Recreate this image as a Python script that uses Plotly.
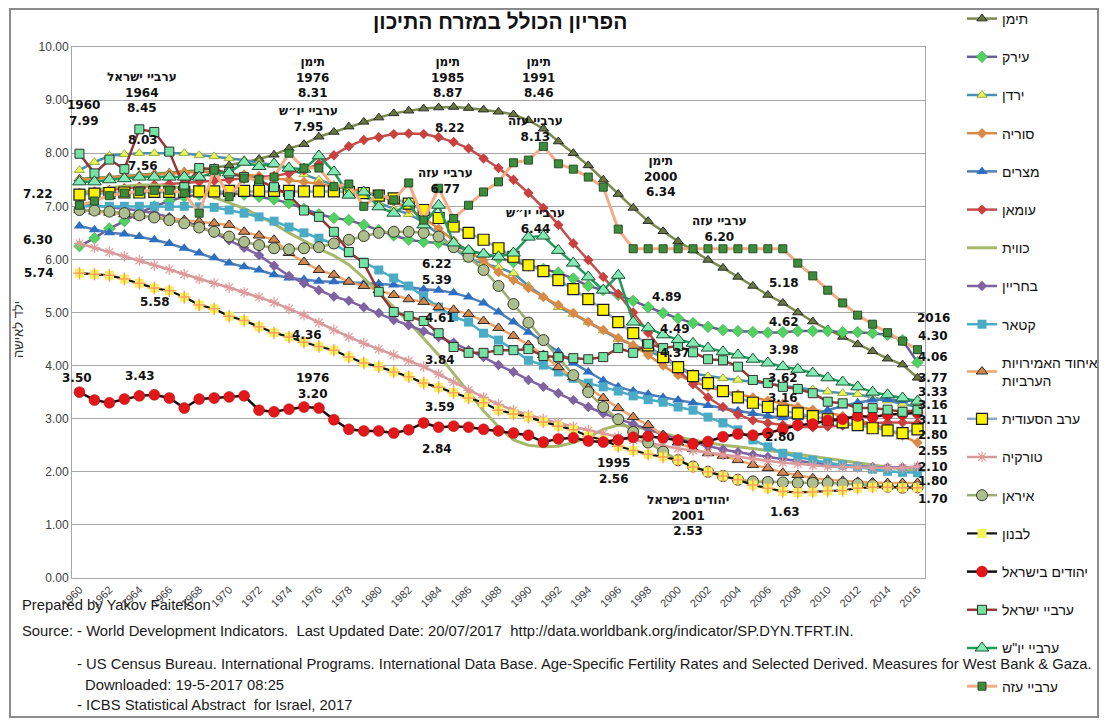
import plotly.graph_objects as go

years = list(range(1960, 2017))

yemen = [7.52, 7.53, 7.55, 7.57, 7.59, 7.61, 7.63, 7.65, 7.68, 7.72,
         7.77, 7.83, 7.89, 7.97, 8.09, 8.17, 8.31, 8.40, 8.50, 8.59,
         8.67, 8.75, 8.80, 8.84, 8.86, 8.87, 8.85, 8.82, 8.78, 8.73,
         8.62, 8.46, 8.22, 8.00, 7.77, 7.50, 7.23, 6.97, 6.72, 6.53,
         6.34, 6.17, 5.99, 5.84, 5.67, 5.50, 5.33, 5.18, 5.00, 4.83,
         4.68, 4.54, 4.40, 4.27, 4.13, 4.02, 3.77]
iraq = [6.25, 6.40, 6.58, 6.72, 6.88, 7.00, 7.10, 7.18, 7.22, 7.24,
        7.24, 7.22, 7.18, 7.13, 7.06, 6.95, 6.85, 6.78, 6.74, 6.65,
        6.55, 6.45, 6.37, 6.33, 6.31, 6.25, 6.17, 6.10, 6.02, 5.95,
        5.88, 5.82, 5.75, 5.64, 5.50, 5.42, 5.33, 5.22, 5.10, 4.99,
        4.89, 4.80, 4.73, 4.67, 4.65, 4.63, 4.62, 4.63, 4.65, 4.65,
        4.65, 4.63, 4.63, 4.61, 4.58, 4.48, 4.06]
jordan = [7.68, 7.83, 7.95, 7.98, 8.00, 8.00, 8.00, 8.00, 7.96, 7.94,
          7.90, 7.87, 7.82, 7.78, 7.70, 7.60, 7.50, 7.40, 7.30, 7.18,
          7.06, 6.95, 6.85, 6.70, 6.47, 6.22, 6.00, 5.92, 5.85, 5.74,
          5.50, 5.30, 5.10, 4.97, 4.82, 4.66, 4.50, 4.39, 4.28, 4.15,
          3.98, 3.85, 3.80, 3.76, 3.73, 3.70, 3.66, 3.62, 3.58, 3.55,
          3.51, 3.48, 3.46, 3.40, 3.34, 3.28, 3.22]
syria = [7.50, 7.52, 7.54, 7.56, 7.58, 7.60, 7.62, 7.64, 7.65, 7.64,
         7.62, 7.60, 7.57, 7.53, 7.50, 7.46, 7.42, 7.38, 7.33, 7.28,
         7.20, 7.10, 6.95, 6.78, 6.58, 6.35, 6.15, 5.98, 5.76, 5.61,
         5.46, 5.29, 5.14, 4.99, 4.82, 4.67, 4.52, 4.38, 4.20, 4.00,
         3.82, 3.70, 3.60, 3.52, 3.46, 3.40, 3.34, 3.28, 3.22, 3.17,
         3.12, 3.05, 2.98, 2.90, 2.80, 2.68, 2.55]
egypt = [6.63, 6.56, 6.50, 6.48, 6.43, 6.37, 6.30, 6.21, 6.12, 6.03,
         5.93, 5.86, 5.80, 5.71, 5.65, 5.62, 5.59, 5.58, 5.57, 5.55,
         5.54, 5.52, 5.48, 5.44, 5.42, 5.37, 5.29, 5.18, 5.01, 4.82,
         4.63, 4.45, 4.26, 4.05, 3.88, 3.72, 3.60, 3.52, 3.46, 3.40,
         3.35, 3.30, 3.25, 3.20, 3.15, 3.10, 3.05, 3.02, 3.02, 3.08,
         3.16, 3.24, 3.30, 3.35, 3.36, 3.34, 3.33]
oman = [7.25, 7.28, 7.31, 7.34, 7.37, 7.40, 7.42, 7.44, 7.46, 7.48,
        7.50, 7.52, 7.54, 7.57, 7.62, 7.68, 7.80, 7.96, 8.13, 8.25,
        8.30, 8.36, 8.37, 8.36, 8.30, 8.21, 8.09, 7.90, 7.72, 7.50,
        7.25, 6.97, 6.65, 6.30, 5.99, 5.67, 5.35, 5.00, 4.62, 4.25,
        3.92, 3.65, 3.40, 3.22, 3.08, 2.97, 2.92, 2.88, 2.85, 2.84,
        2.85, 2.87, 2.90, 2.92, 2.93, 2.93, 2.92]
kuwait = [7.25, 7.30, 7.35, 7.38, 7.40, 7.40, 7.38, 7.33, 7.26, 7.17,
          7.07, 6.96, 6.82, 6.67, 6.50, 6.35, 6.20, 6.07, 5.90, 5.65,
          5.38, 5.10, 4.82, 4.52, 4.20, 3.85, 3.50, 3.15, 2.85, 2.60,
          2.50, 2.47, 2.48, 2.55, 2.65, 2.80, 2.88, 2.85, 2.80, 2.72,
          2.65, 2.60, 2.55, 2.50, 2.47, 2.44, 2.40, 2.37, 2.33, 2.29,
          2.25, 2.20, 2.16, 2.12, 2.08, 2.05, 2.03]
bahrain = [7.05, 7.02, 6.99, 6.96, 6.92, 6.87, 6.80, 6.72, 6.62, 6.50,
           6.36, 6.22, 6.08, 5.88, 5.69, 5.55, 5.42, 5.30, 5.22, 5.10,
           4.99, 4.86, 4.76, 4.65, 4.54, 4.43, 4.29, 4.16, 4.01, 3.88,
           3.73, 3.60, 3.48, 3.35, 3.22, 3.10, 3.00, 2.90, 2.80, 2.70,
           2.62, 2.55, 2.48, 2.42, 2.37, 2.32, 2.28, 2.24, 2.20, 2.17,
           2.14, 2.12, 2.10, 2.09, 2.08, 2.08, 2.09]
qatar = [7.00, 7.00, 7.00, 7.00, 7.00, 7.00, 7.00, 7.00, 6.99, 6.98,
         6.93, 6.87, 6.80, 6.72, 6.61, 6.50, 6.40, 6.29, 6.12, 5.95,
         5.80, 5.65, 5.50, 5.30, 5.10, 4.92, 4.82, 4.61, 4.48, 4.30,
         4.10, 4.01, 3.88, 3.76, 3.67, 3.60, 3.52, 3.43, 3.36, 3.31,
         3.22, 3.16, 3.03, 2.92, 2.79, 2.60, 2.47, 2.35, 2.28, 2.22,
         2.17, 2.13, 2.09, 2.05, 2.01, 1.99, 1.98]
uae = [6.93, 6.90, 6.88, 6.85, 6.82, 6.80, 6.77, 6.74, 6.71, 6.68,
       6.65, 6.52, 6.45, 6.37, 6.12, 5.95, 5.80, 5.71, 5.58, 5.50,
       5.42, 5.33, 5.25, 5.20, 5.10, 5.05, 4.97, 4.84, 4.71, 4.56,
       4.39, 4.20, 3.97, 3.78, 3.58, 3.39, 3.20, 3.03, 2.88, 2.69,
       2.55, 2.43, 2.35, 2.30, 2.22, 2.13, 2.07, 1.98, 1.94, 1.88,
       1.85, 1.83, 1.81, 1.80, 1.79, 1.79, 1.79]
saudi = [7.22, 7.24, 7.25, 7.26, 7.26, 7.27, 7.27, 7.27, 7.28, 7.28,
         7.29, 7.29, 7.29, 7.29, 7.29, 7.28, 7.28, 7.28, 7.27, 7.25,
         7.20, 7.15, 7.05, 6.93, 6.78, 6.62, 6.50, 6.37, 6.21, 6.05,
         5.89, 5.78, 5.61, 5.44, 5.25, 5.05, 4.82, 4.61, 4.38, 4.16,
         3.97, 3.80, 3.67, 3.52, 3.40, 3.30, 3.22, 3.15, 3.10, 3.05,
         2.99, 2.93, 2.88, 2.82, 2.78, 2.73, 2.80]
turkey = [6.30, 6.22, 6.14, 6.06, 5.98, 5.89, 5.81, 5.72, 5.63, 5.55,
          5.47, 5.38, 5.29, 5.19, 5.07, 4.95, 4.81, 4.67, 4.54, 4.42,
          4.31, 4.20, 4.09, 3.98, 3.84, 3.69, 3.54, 3.40, 3.27, 3.16,
          3.07, 2.99, 2.92, 2.85, 2.78, 2.72, 2.66, 2.60, 2.54, 2.49,
          2.44, 2.40, 2.36, 2.32, 2.28, 2.24, 2.20, 2.17, 2.15, 2.12,
          2.10, 2.09, 2.08, 2.07, 2.07, 2.07, 2.10]
iran = [6.93, 6.92, 6.90, 6.87, 6.83, 6.79, 6.74, 6.68, 6.60, 6.52,
        6.43, 6.33, 6.27, 6.21, 6.19, 6.21, 6.23, 6.30, 6.37, 6.44,
        6.50, 6.52, 6.52, 6.50, 6.43, 6.23, 6.05, 5.80, 5.50, 5.16,
        4.81, 4.48, 4.15, 3.82, 3.50, 3.22, 2.99, 2.75, 2.55, 2.38,
        2.22, 2.10, 2.00, 1.92, 1.85, 1.82, 1.81, 1.80, 1.79, 1.79,
        1.79, 1.78, 1.77, 1.75, 1.72, 1.70, 1.71]
lebanon = [5.74, 5.72, 5.70, 5.63, 5.55, 5.46, 5.41, 5.29, 5.14, 5.07,
           4.93, 4.85, 4.73, 4.62, 4.54, 4.44, 4.36, 4.29, 4.16, 4.05,
           3.98, 3.88, 3.79, 3.67, 3.59, 3.49, 3.39, 3.30, 3.16, 3.09,
           3.03, 2.94, 2.86, 2.79, 2.67, 2.60, 2.48, 2.40, 2.33, 2.28,
           2.22, 2.09, 2.00, 1.92, 1.85, 1.75, 1.69, 1.63, 1.61, 1.62,
           1.64, 1.65, 1.69, 1.71, 1.71, 1.70, 1.70]
jews_israel = [3.50, 3.35, 3.30, 3.37, 3.43, 3.45, 3.39, 3.20, 3.37, 3.39,
               3.41, 3.43, 3.16, 3.13, 3.18, 3.22, 3.20, 2.98, 2.80, 2.77,
               2.77, 2.73, 2.79, 2.92, 2.84, 2.86, 2.84, 2.80, 2.77, 2.73,
               2.69, 2.56, 2.62, 2.64, 2.58, 2.56, 2.60, 2.65, 2.67, 2.64,
               2.60, 2.53, 2.57, 2.66, 2.71, 2.69, 2.73, 2.80, 2.88, 2.90,
               2.97, 2.99, 3.05, 3.03, 3.08, 3.09, 3.11]
arabs_israel = [7.99, 7.62, 7.88, 7.70, 8.45, 8.40, 8.03, 7.36, 7.72, 7.70,
                7.62, 7.55, 7.48, 7.36, 7.21, 6.92, 6.80, 6.52, 6.14, 5.93,
                5.39, 5.01, 4.93, 4.84, 4.61, 4.35, 4.24, 4.24, 4.29, 4.29,
                4.31, 4.18, 4.16, 4.14, 4.12, 4.16, 4.33, 4.24, 4.41, 4.33,
                4.37, 4.25, 4.12, 4.10, 3.98, 3.73, 3.67, 3.60, 3.56, 3.48,
                3.32, 3.29, 3.20, 3.20, 3.17, 3.13, 3.16]
arabs_wb = [7.46, 7.46, 7.50, 7.52, 7.55, 7.55, 7.55, 7.55, 7.55, 7.63,
            7.63, 7.83, 7.75, 7.80, 7.72, 7.70, 7.95, 7.65, 7.21, 7.27,
            6.99, 6.87, 7.06, 6.65, 7.02, 6.31, 6.17, 6.10, 6.05, 6.12,
            6.42, 6.44, 6.17, 5.93, 5.67, 5.42, 5.70, 4.82, 4.71, 4.58,
            4.49, 4.42, 4.33, 4.26, 4.20, 4.12, 4.05, 3.98, 3.93, 3.86,
            3.77, 3.69, 3.60, 3.50, 3.45, 3.39, 3.33]
arabs_gaza = [7.02, 7.10, 7.20, 7.25, 7.28, 7.30, 7.30, 7.25, 6.87, 7.68,
              7.18, 7.53, 7.50, 7.55, 8.00, 7.72, 7.72, 7.37, 7.42, 7.00,
              7.23, 7.12, 7.44, 6.74, 7.34, 6.77, 7.02, 7.27, 7.46, 7.82,
              7.87, 8.13, 7.80, 7.70, 7.55, 7.36, 6.57, 6.20, 6.20, 6.20,
              6.20, 6.20, 6.20, 6.20, 6.20, 6.20, 6.20, 6.20, 5.93, 5.69,
              5.42, 5.18, 4.95, 4.78, 4.62, 4.46, 4.30]

tick_years = years[::2]
y_ticks = [0, 1, 2, 3, 4, 5, 6, 7, 8, 9, 10]

title_text = "הפריון הכולל במזרח התיכון"
y_title = "ילד לאישה"

# point labels: (text, year, value)
point_labels = [
    ("1960<br>7.99", 1960.3, 8.76),
    ("ערביי ישראל<br>1964<br>8.45", 1964.2, 9.15),
    ("8.03", 1964.25, 8.25),
    ("7.56", 1964.25, 7.76),
    ("תימן<br>1976<br>8.31", 1975.6, 9.43),
    ("ערביי יו״ש<br>7.95", 1975.3, 8.64),
    ("תימן<br>1985<br>8.87", 1984.6, 9.43),
    ("8.22", 1984.76, 8.47),
    ("תימן<br>1991<br>8.46", 1990.65, 9.43),
    ("ערביי עזה<br>8.13", 1990.45, 8.46),
    ("ערביי עזה<br>6.77", 1984.43, 7.48),
    ("ערביי יו״ש<br>6.44", 1990.45, 6.72),
    ("6.22<br>5.39", 1983.9, 5.76),
    ("4.61", 1984.1, 4.90),
    ("4.36", 1975.2, 4.58),
    ("3.84", 1984.1, 4.11),
    ("3.59", 1984.1, 3.22),
    ("2.84", 1983.9, 2.43),
    ("5.58", 1965.05, 5.20),
    ("3.50", 1959.85, 3.77),
    ("3.43", 1964.05, 3.80),
    ("1976<br>3.20", 1975.6, 3.62),
    ("1995<br>2.56", 1995.7, 2.02),
    ("יהודים בישראל<br>2001<br>2.53", 2000.67, 1.17),
    ("1.63", 2007.15, 1.24),
    ("2.80", 2006.8, 2.66),
    ("תימן<br>2000<br>6.34", 1998.8, 7.57),
    ("ערביי עזה<br>6.20", 2002.8, 6.57),
    ("5.18", 2007.1, 5.56),
    ("4.89", 1999.27, 5.29),
    ("4.62", 2007.1, 4.82),
    ("4.49", 1999.8, 4.69),
    ("4.37", 1999.8, 4.24),
    ("3.98", 2007.1, 4.29),
    ("3.62", 2007.0, 3.77),
    ("3.16", 2007.0, 3.39),
]
# labels placed outside the plotting range: (text, year, value)
edge_labels = [
    ("2016", 2017.05, 4.90),
    ("4.30", 2017.05, 4.56),
    ("4.06", 2017.05, 4.16),
    ("3.77", 2017.05, 3.77),
    ("3.33", 2017.05, 3.50),
    ("3.16", 2017.05, 3.26),
    ("3.11", 2017.05, 2.98),
    ("2.80", 2017.05, 2.69),
    ("2.55", 2017.05, 2.39),
    ("2.10", 2017.05, 2.09),
    ("1.80", 2017.05, 1.83),
    ("1.70", 2017.05, 1.49),
    ("7.22", 1957.2, 7.24),
    ("6.30", 1957.2, 6.37),
    ("5.74", 1957.3, 5.74),
]

source_lines = [
    ("Prepared by Yakov Faitelson", 20, 605),
    ("Source: - World Development Indicators.  Last Updated Date: 20/07/2017  http://data.worldbank.org/indicator/SP.DYN.TFRT.IN.", 20, 631),
    ("- US Census Bureau. International Programs. International Data Base. Age-Specific Fertility Rates and Selected Derived. Measures for West Bank & Gaza.", 75, 664),
    ("Downloaded: 19-5-2017 08:25", 83, 685),
    ("- ICBS Statistical Abstract  for Israel, 2017", 75, 705),
]

# plot area geometry (pixels)
L, R, T, B = 72, 925, 47, 578
W, H = 1105, 725
X0, X1 = 1959.5, 2016.5
Y0, Y1 = 0, 10


def PX(px):
    return (px - L) / (R - L)


def PY(py):
    return (B - py) / (B - T)


def mk(symbol, size, color, lc=None, lw=0):
    return dict(symbol=symbol, size=size, color=color,
                line=dict(color=lc if lc else color, width=lw))


series = [
    ("תימן", yemen, dict(color="#7b8b4d", width=2.5), mk("triangle-up", 9, "#68763f", "#2b2b2b", 1)),
    ("עירק", iraq, dict(color="#6a5c94", width=2.5), mk("diamond", 9, "#4fd25f", "#3a9a45", 0.5)),
    ("ירדן", jordan, dict(color="#4c8fb2", width=2.5), mk("triangle-up", 9, "#e4f55a", "#8a9a30", 0.8)),
    ("סוריה", syria, dict(color="#d98a47", width=2.5), mk("diamond", 8, "#d98a47")),
    ("מצרים", egypt, dict(color="#4f7fb5", width=2.5), mk("triangle-up", 10, "#2d6ec2")),
    ("עומאן", oman, dict(color="#c0504d", width=2.5), mk("diamond", 8, "#c9403f")),
    ("כווית", kuwait, dict(color="#a6b96b", width=3), None),
    ("בחריין", bahrain, dict(color="#7f63a1", width=2.5), mk("diamond", 8, "#7f63a1")),
    ("קטאר", qatar, dict(color="#4aabc5", width=2.5), mk("square", 9, "#4aabc5")),
    ("איחוד האמירויות<br>הערביות", uae, dict(color="#eea56c", width=2.5), mk("triangle-up", 10, "#d3874f", "#2b2b2b", 1)),
    ("ערב הסעודית", saudi, dict(color="#8fa6cc", width=2.5), mk("square", 11, "#fbf200", "#1a1a1a", 1.2)),
    ("טורקיה", turkey, dict(color="#d39b9b", width=2.5), mk("asterisk-open", 9, "#e39a9a", "#e39a9a", 1.2)),
    ("איראן", iran, dict(color="#9aac72", width=2.5), mk("circle", 11, "#aebf8f", "#3a3a2a", 1)),
    ("לבנון", lebanon, dict(color="#111111", width=2.2), mk("square", 9, "#f2f25a")),
    ("יהודים בישראל", jews_israel, dict(color="#111111", width=2.5), mk("circle", 11, "#e3161a", "#b01010", 0.5)),
    ("ערביי ישראל", arabs_israel, dict(color="#953735", width=2.5), mk("square", 9, "#73e3a3", "#2f2f2f", 1)),
    ('ערביי יו"ש', arabs_wb, dict(color="#1e9c5a", width=2.5), mk("triangle-up", 12, "#82e9b4", "#1b4f30", 1)),
    ("ערביי עזה", arabs_gaza, dict(color="#f4ab86", width=3), mk("square", 8, "#3d8c3d", "#264f26", 1)),
]

fig = go.Figure()
for i, (name, vals, line, marker) in enumerate(series):
    kw = dict(x=years, y=vals, name=name, line=line, legendgroup=f"g{i}",
              cliponaxis=False)
    if marker is None:
        kw["mode"] = "lines"
    else:
        kw["mode"] = "lines+markers"
        kw["marker"] = marker
    fig.add_trace(go.Scatter(**kw))
    if name == "לבנון":
        fig.add_trace(go.Scatter(x=years, y=vals, mode="markers", showlegend=False,
                                 legendgroup=f"g{i}", hoverinfo="skip",
                                 marker=dict(symbol="cross-thin-open", size=9,
                                             line=dict(color="#000000", width=1.5))))

lab_font = dict(family="DejaVu Sans", size=12, color="#111111")
annotations = []
for text, xv, yv in point_labels:
    annotations.append(dict(text=f"<b>{text}</b>", x=xv, y=yv, xref="x", yref="y",
                            xanchor="center", yanchor="middle",
                            showarrow=False, font=lab_font, align="center"))
for text, xv, yv in edge_labels:
    annotations.append(dict(text=f"<b>{text}</b>", x=(xv - X0) / (X1 - X0), y=(yv - Y0) / (Y1 - Y0),
                            xref="paper", yref="paper", xanchor="center", yanchor="middle",
                            showarrow=False, font=lab_font, align="center"))

annotations.append(dict(text=f"<b>{title_text}</b>", x=PX(500), y=PY(22), xref="paper", yref="paper",
                        xanchor="center", yanchor="middle",
                        showarrow=False, font=dict(family="Liberation Sans, Arial", size=21, color="#111111")))
annotations.append(dict(text=y_title, x=PX(18), y=PY(330), xref="paper", yref="paper", textangle=-90,
                        xanchor="center", yanchor="middle",
                        showarrow=False, font=dict(family="Liberation Sans, Arial", size=13, color="#333333")))
for text, px, py in source_lines:
    annotations.append(dict(text=text, x=PX(px), y=PY(py), xref="paper", yref="paper",
                            xanchor="left", yanchor="middle", showarrow=False,
                            font=dict(family="Liberation Sans, Arial", size=14.8, color="#1a1a1a")))

shapes = [dict(type="rect", xref="paper", yref="paper", x0=PX(10), x1=PX(1098), y0=PY(717), y1=PY(9),
               line=dict(color="#8c8c8c", width=2), fillcolor="rgba(0,0,0,0)", layer="below")]

fig.update_layout(
    width=W, height=H,
    margin=dict(l=L, r=W - R, t=T, b=H - B, pad=0, autoexpand=False),
    paper_bgcolor="white", plot_bgcolor="white",
    showlegend=True,
    legend=dict(x=PX(962), y=PY(3), xanchor="left", yanchor="top",
                font=dict(family="Liberation Sans, Arial", size=14, color="#111111"),
                tracegroupgap=17.0, itemwidth=30, bgcolor="rgba(0,0,0,0)",
                maxheight=1000),
    annotations=annotations,
    shapes=shapes,
    xaxis=dict(range=[X0, X1], tickvals=tick_years, tickangle=-45,
               showgrid=False, zeroline=False, showline=True, mirror=True,
               linecolor="#a6a6a6", linewidth=1, ticks="",
               tickfont=dict(family="Liberation Sans, Arial", size=11, color="#404040")),
    yaxis=dict(range=[Y0, Y1], tickvals=y_ticks, tickformat=".2f",
               showgrid=True, gridcolor="#a6a6a6", gridwidth=1, zeroline=False,
               showline=True, mirror=True, linecolor="#a6a6a6", linewidth=1, ticks="",
               tickfont=dict(family="Liberation Sans, Arial", size=12, color="#404040")),
)

fig.write_html("out.html", config={"displayModeBar": False},
               post_script="document.body.style.margin='0px';document.body.style.overflow='hidden';")
